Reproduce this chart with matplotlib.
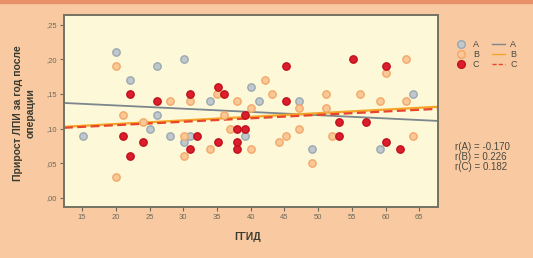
import numpy as np
import matplotlib
matplotlib.use('Agg')
import matplotlib.pyplot as plt
from matplotlib.lines import Line2D
from matplotlib.patches import Rectangle

# group A (gray)
a_x = [20.05, 26.1, 30.05, 22.1, 40.0, 34.0, 26.1, 25.1, 15.1, 28.07, 31.04, 30.05, 39.2,
       41.2, 47.1, 49.1, 59.2, 64.0]
a_y = [0.210, 0.190, 0.200, 0.170, 0.160, 0.140, 0.120, 0.099, 0.090, 0.090, 0.090, 0.081, 0.090,
       0.140, 0.140, 0.070, 0.070, 0.150]

# group B (orange)
b_x = [20.05, 20.05, 21.1, 28.07, 31.04, 24.06, 30.05, 30.05, 34.0, 35.0, 36.0, 37.0, 38.0, 40.0, 40.0,
       42.1, 43.1, 47.1, 47.1, 45.2, 44.2, 49.1, 51.1, 51.1, 52.1, 56.2, 59.2, 60.1, 63.1, 63.1, 64.0]
b_y = [0.190, 0.030, 0.120, 0.140, 0.140, 0.110, 0.090, 0.060, 0.070, 0.150, 0.120, 0.100, 0.140, 0.070, 0.130,
       0.170, 0.150, 0.130, 0.100, 0.090, 0.081, 0.050, 0.150, 0.130, 0.090, 0.150, 0.140, 0.180, 0.200, 0.140, 0.090]

# group C (red)
c_x = [22.1, 26.1, 31.04, 35.1, 36.1, 21.1, 24.06, 22.1, 32.0, 31.04, 35.1, 38.0, 39.2, 38.0, 38.0, 39.2,
       45.2, 45.2, 55.2, 60.1, 53.1, 53.1, 57.1, 60.1, 62.1]
c_y = [0.150, 0.140, 0.150, 0.160, 0.150, 0.090, 0.081, 0.060, 0.090, 0.070, 0.081, 0.100, 0.100, 0.081, 0.070, 0.120,
       0.190, 0.140, 0.200, 0.190, 0.110, 0.090, 0.110, 0.081, 0.070]

# regression lines: (intercept, slope)
fit_a = (0.1428, -0.000468)
fit_b = (0.0962, 0.000521)
fit_c = (0.0951, 0.000494)

r_values = {'A': -0.170, 'B': 0.226, 'C': 0.182}

x_ticks = [15, 20, 25, 30, 35, 40, 45, 50, 55, 60, 65]
y_ticks = [0.00, 0.05, 0.10, 0.15, 0.20, 0.25]
y_tick_labels = [',00', ',05', ',10', ',15', ',20', ',25']

plt.rcParams['font.family'] = ['Liberation Sans', 'DejaVu Sans']

fig = plt.figure(figsize=(5.33, 2.58), dpi=100)
fig.patch.set_facecolor('#f9caa2')
fig.patches.append(Rectangle((0, 0.988), 1, 0.012, transform=fig.transFigure,
                             color='#e8906a', zorder=0))

ax = fig.add_axes([0.120, 0.198, 0.702, 0.744])
ax.set_facecolor('#fcf8d8')

xlim = (12.3, 67.8)
ax.set_xlim(xlim)
ax.set_ylim(-0.013, 0.264)

xs = np.array(xlim)
ax.plot(xs, fit_a[0] + fit_a[1] * xs, color='#7c868c', lw=1.3, zorder=2)
ax.plot(xs, fit_b[0] + fit_b[1] * xs, color='#f5a628', lw=1.6, zorder=2)
ax.plot(xs, fit_c[0] + fit_c[1] * xs, color='#e8452a', lw=1.6, dashes=(4, 2), zorder=2)

ms = 28
ax.scatter(a_x, a_y, s=ms, c='#c0c8cc', edgecolors='#9aa8b2', linewidths=1.0, zorder=3)
ax.scatter(b_x, b_y, s=ms, c='#f9c898', edgecolors='#f3a868', linewidths=1.0, zorder=3)
ax.scatter(c_x, c_y, s=ms, c='#dc1e2c', edgecolors='#c0101c', linewidths=1.0, zorder=3)

ax.set_xticks(x_ticks)
ax.set_xticklabels([str(t) for t in x_ticks])
ax.set_yticks(y_ticks)
ax.set_yticklabels(y_tick_labels)
ax.tick_params(labelsize=5.5, colors='#6a6a5a', length=3, width=0.8, direction='out', pad=2)
for s in ax.spines.values():
    s.set_color('#737363')
    s.set_linewidth(1.4)

fig.text(0.045, 0.56, 'Прирост ЛПИ за год после\nоперации', rotation=90, ha='center', va='center',
         fontsize=7.5, fontweight='bold', color='#3a3a30', linespacing=1.3)
fig.text(0.464, 0.08, 'ГГИД', ha='center', va='center', fontsize=7.5, fontweight='bold', color='#3a3a30')

handles = [
    Line2D([], [], ls='', marker='o', ms=5.5, mfc='#c0c8cc', mec='#9aa8b2'),
    Line2D([], [], ls='', marker='o', ms=5.5, mfc='#f9c898', mec='#f3a868'),
    Line2D([], [], ls='', marker='o', ms=5.5, mfc='#dc1e2c', mec='#c0101c'),
    Line2D([], [], color='#7c868c', lw=1),
    Line2D([], [], color='#f5a628', lw=1),
    Line2D([], [], color='#e8452a', lw=1, dashes=(3, 1.5)),
]
labels = ['A', 'B', 'C', 'A', 'B', 'C']
fig.legend(handles, labels, ncol=2, loc='upper left', bbox_to_anchor=(0.838, 0.875), frameon=False,
           fontsize=6.5, handlelength=1.4, handletextpad=0.6, columnspacing=1.4, labelspacing=0.1,
           labelcolor='#4a4a40')

stats = '\n'.join(f'r({k}) = {v:.3f}' for k, v in r_values.items())
fig.text(0.853, 0.39, stats, ha='left', va='center', fontsize=7, color='#4a4a40', linespacing=1.0)

fig.savefig('out.png', dpi=100, facecolor=fig.get_facecolor())
